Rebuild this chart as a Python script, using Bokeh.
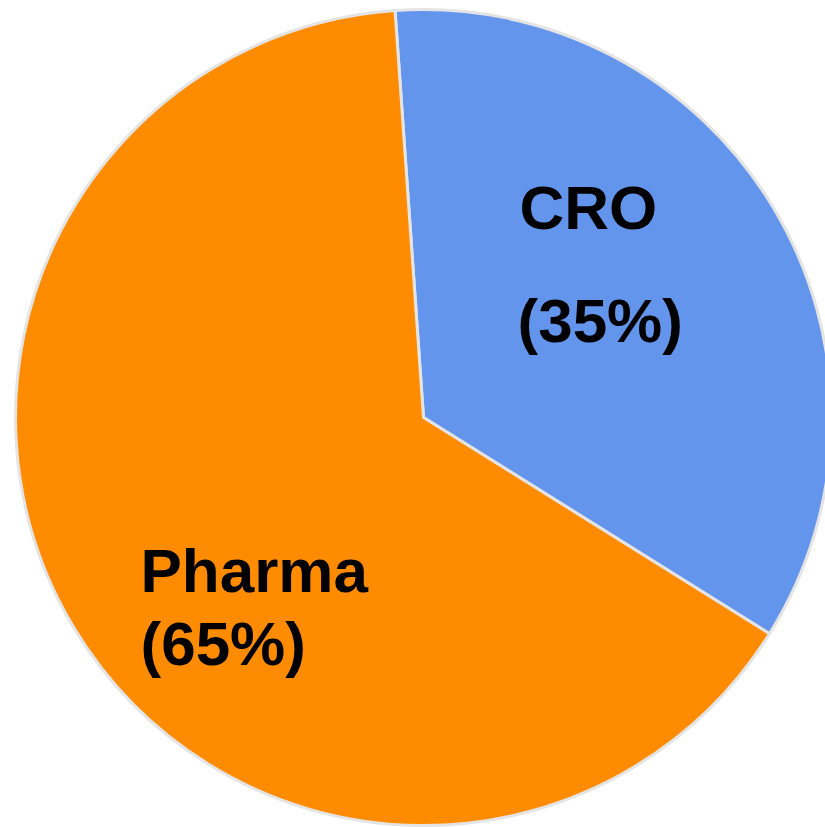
import math
from bokeh.plotting import figure
from bokeh.models import Range1d, ColumnDataSource
from bokeh.core.properties import value
from bokeh.embed import file_html
from bokeh.resources import INLINE

# Data
categories = ["CRO", "Pharma"]
shares = [35, 65]
label_pct = ["(35%)", "(65%)"]
colors = ["#6495ED", "#FF8C00"]

# Layout (screen coords -> data coords where data_y = 827 - screen_y)
W, H = 825, 827
cx, cy, r = 423, 827 - 417, 408
start_deg = 94.0  # CRO starts just left of 12 o'clock, runs clockwise

total = sum(shares)
starts, ends = [], []
cur = start_deg
for s in shares:
    sweep = 360.0 * s / total
    starts.append(math.radians(cur - sweep))
    ends.append(math.radians(cur))
    cur -= sweep

src = ColumnDataSource(dict(cat=categories, start=starts, end=ends, color=colors))

p = figure(width=W, height=H, output_backend="svg", toolbar_location=None,
           x_range=Range1d(0, W), y_range=Range1d(0, H),
           x_axis_type=None, y_axis_type=None, min_border=0)
p.grid.visible = False
p.outline_line_color = None
p.background_fill_color = "white"

p.wedge(x=cx, y=cy, radius=r, start_angle="start", end_angle="end",
        fill_color="color", line_color="#E4E4E4", line_width=3, source=src)

# Labels
lab_x = [519, 140]
name_y = [827 - 207, 827 - 570]
pct_x = [517, 140]
pct_y = [827 - 320, 827 - 643]
p.text(x=lab_x, y=name_y, text=categories, text_font=value("Liberation Sans"),
       text_font_style="bold", text_font_size="62px", text_color="black",
       text_align="left", text_baseline="alphabetic")
p.text(x=pct_x, y=pct_y, text=label_pct, text_font=value("Liberation Sans"),
       text_font_style="bold", text_font_size="62px", text_color="black",
       text_align="left", text_baseline="alphabetic")

open("out.html", "w").write(file_html(p, INLINE))
